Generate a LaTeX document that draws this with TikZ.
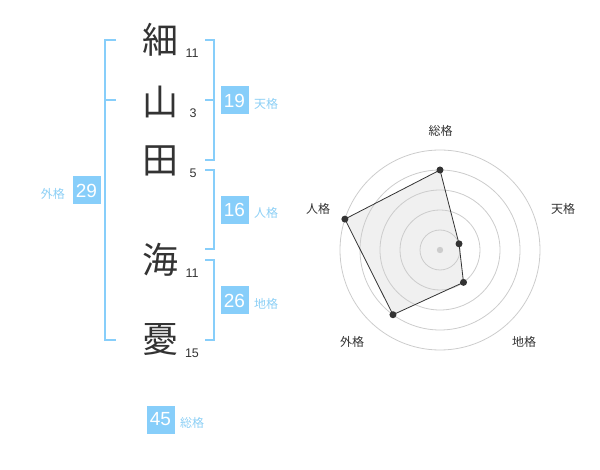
\documentclass[tikz,border=0pt]{standalone}
\usepackage{fontspec}
\setmainfont{Liberation Sans}
\newfontfamily\jp{Noto Sans CJK JP}
\definecolor{sky}{HTML}{87CEFA}
\definecolor{skytext}{HTML}{8CCFF5}
\definecolor{ink}{HTML}{333333}
\definecolor{ring}{HTML}{CCCCCC}
\definecolor{area}{HTML}{F0F0F0}
\tikzset{
  kanji/.style={inner sep=0pt, font=\jp\fontsize{36}{36}\selectfont, text=ink},
  num/.style={inner sep=0pt, font=\fontsize{12.5}{12.5}\selectfont, text=ink},
  br/.style={draw=sky, line width=2pt},
  scorebox/.style={fill=sky, minimum width=28pt, minimum height=28pt, inner sep=0pt, text=white, font=\fontsize{19}{19}\selectfont},
  scorelab/.style={inner sep=0pt, text=skytext, font=\jp\fontsize{12}{12}\selectfont},
  radlab/.style={inner sep=0pt, text=ink, font=\jp\fontsize{12}{12}\selectfont},
  dot/.style={circle, fill=ink, inner sep=0pt, minimum size=7pt},
}
\begin{document}
\begin{tikzpicture}[x=1pt,y=-1pt]
\useasboundingbox (0,0) rectangle (600,470);
% characters
\node[kanji] (k1) at (160,40) {細};
\node[kanji] (k2) at (160,102) {山};
\node[kanji] (k3) at (160,161) {田};
\node[kanji] (k4) at (160,260) {海};
\node[kanji] (k5) at (160,340) {憂};
\node[num] (n1) at (192,53) {11};
\node[num] (n2) at (193,113) {3};
\node[num] (n3) at (193,173) {5};
\node[num] (n4) at (192,273) {11};
\node[num] (n5) at (192,353) {15};
% brackets
\draw[br] (116,40) -- (105,40) -- (105,340) -- (116,340);
\draw[br] (105,100) -- (116,100);
\draw[br] (205,40) -- (214,40) -- (214,160) -- (205,160);
\draw[br] (205,100) -- (214,100);
\draw[br] (205,170) -- (214,170) -- (214,249) -- (205,249);
\draw[br] (205,260) -- (214,260) -- (214,340) -- (205,340);
% scores
\node[scorebox] (s19) at (234.5,100.5) {19};
\node[scorelab, anchor=west] (l19) at (254,104) {天格};
\node[scorebox] (s16) at (234.5,210) {16};
\node[scorelab, anchor=west] (l16) at (254,213) {人格};
\node[scorebox] (s26) at (234.5,300.5) {26};
\node[scorelab, anchor=west] (l26) at (254,304) {地格};
\node[scorebox] (s29) at (86.5,190.5) {29};
\node[scorelab, anchor=east] (l29) at (65,194) {外格};
\node[scorebox] (s45) at (160.5,419.5) {45};
\node[scorelab, anchor=west] (l45) at (180,423) {総格};
% radar
\begin{scope}[shift={(440,250)}]
  \coordinate (c) at (0,0);
  \coordinate (pso) at (-90:80);
  \coordinate (pten) at (-18:20);
  \coordinate (pchi) at (54:40);
  \coordinate (pgai) at (126:80);
  \coordinate (pjin) at (-162:100);
  \fill[area] (pso) -- (pten) -- (pchi) -- (pgai) -- (pjin) -- cycle;
  \foreach \r in {20,40,60,80,100} \draw[ring, line width=0.8pt] (c) circle[radius=\r];
  \fill[ring] (c) circle[radius=3.2];
  \draw[ink, line width=0.8pt] (pso) -- (pten) -- (pchi) -- (pgai) -- (pjin) -- cycle;
  \foreach \p in {pso,pten,pchi,pgai,pjin} \node[dot] at (\p) {};
\end{scope}
\node[radlab] (rso) at (440.7,130.7) {総格};
\node[radlab] (rten) at (563,209) {天格};
\node[radlab] (rjin) at (318,209) {人格};
\node[radlab] (rgai) at (352,342) {外格};
\node[radlab] (rchi) at (524,342) {地格};
\end{tikzpicture}
\end{document}
